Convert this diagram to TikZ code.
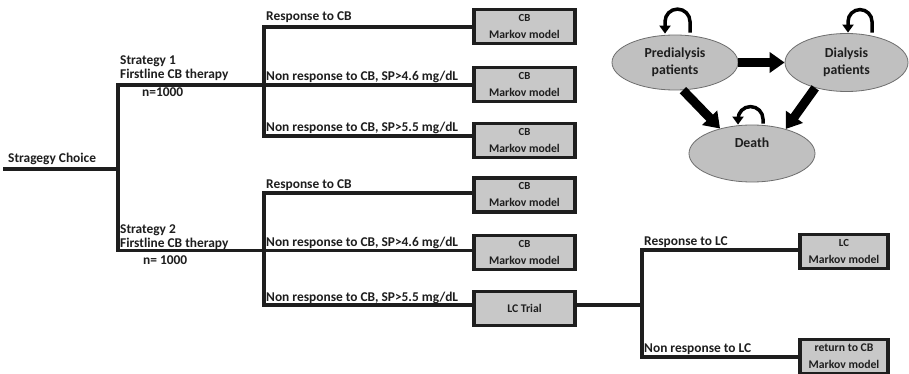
\documentclass[tikz,border=0pt]{standalone}
\usepackage{fontspec}
\setmainfont{Carlito}
\usetikzlibrary{arrows.meta,shapes.geometric}
\definecolor{ink}{HTML}{1E1E1E}
\definecolor{boxfill}{HTML}{C8C8C8}
\definecolor{ellfill}{HTML}{C0C0C0}
\definecolor{ellline}{HTML}{6E6E6E}
\newcommand{\cbsize}{\fontsize{10.8}{11}\selectfont}
\begin{document}
\begin{tikzpicture}[x=1pt,y=-1pt,
  treeline/.style={line width=3.2pt, draw=ink, line join=miter, line cap=rect},
  lab/.style={anchor=base west, inner sep=0pt, font=\bfseries\fontsize{13.4}{14}\selectfont, text=ink},
  mbox/.style={draw=ink, line width=3.2pt, fill=boxfill, minimum width=101pt, minimum height=34pt, inner sep=0pt, align=center, text=ink, font=\bfseries\fontsize{11.7}{14}\selectfont},
  mstate/.style={ellipse, draw=ellline, line width=0.8pt, fill=ellfill, minimum width=126pt, minimum height=56pt, inner sep=0pt, align=center, text=ink, font=\bfseries\fontsize{13.8}{17}\selectfont},
  bigarrow/.style={line width=9pt, draw=black, -{Triangle[length=15pt,width=20pt]}},
  selfloop/.style={line width=3.5pt, draw=black, -{Triangle[length=8pt,width=11pt]}}
]
\useasboundingbox (0,0) rectangle (909,374);
\fill[white] (0,0) rectangle (909,374);

% ---------- boxes ----------
\node[mbox] (b1) at (524.5,26.5) {{\cbsize CB}\\[3pt]Markov model};
\node[mbox] (b2) at (524.5,84.5) {{\cbsize CB}\\[3pt]Markov model};
\node[mbox] (b3) at (524.5,140.5) {{\cbsize CB}\\[3pt]Markov model};
\node[mbox] (b4) at (524.5,195) {{\cbsize CB}\\[3pt]Markov model};
\node[mbox] (b5) at (524.5,252.5) {{\cbsize CB}\\[3pt]Markov model};
\node[mbox] (lct) at (524.5,308.5) {\mbox{}\\[-6pt]LC Trial};
\node[mbox, minimum width=88pt] (lcb) at (844,251.5) {{\cbsize LC}\\[3pt]Markov model};
\node[mbox, minimum width=88pt] (rcb) at (844,356.5) {return to CB\\[3pt]Markov model};

% ---------- tree coordinates ----------
\coordinate (root) at (5,169);
\coordinate (j0) at (118,169);
\coordinate (s1) at (118,85);
\coordinate (s2) at (118,250.5);
\coordinate (j1) at (264,85);
\coordinate (j2) at (264,250.5);
\coordinate (j1a) at (264,27);
\coordinate (j1c) at (264,136);
\coordinate (j2a) at (264,193);
\coordinate (j2c) at (264,305);
\coordinate (j3) at (642,305);
\coordinate (j3a) at (642,250);
\coordinate (j3c) at (642,357);

% ---------- tree lines ----------
\draw[treeline] (root) -- (j0);
\draw[treeline] (j1) -- (s1) -- (s2) -- (j2);
\draw[treeline] (j1a -| b1.west) -- (j1a) -- (j1c) -- (j1c -| b3.west);
\draw[treeline] (j1) -- (j1 -| b2.west);
\draw[treeline] (j2a -| b4.west) -- (j2a) -- (j2c) -- (j2c -| lct.west);
\draw[treeline] (j2) -- (j2 -| b5.west);
\draw[treeline] (lct.east |- j3) -- (j3);
\draw[treeline] (j3a -| lcb.west) -- (j3a) -- (j3c) -- (j3c -| rcb.west);

% ---------- tree labels ----------
\node[lab] (tchoice) at (8,163) {Stragegy Choice};
\node[lab] (ts1a) at (120,65) {Strategy 1};
\node[lab] (ts1b) at (120,79) {Firstline CB therapy};
\node[lab] (ts1n) at (142,97) {n=1000};
\node[lab] (ts2a) at (120,233) {Strategy 2};
\node[lab] (ts2b) at (120,247) {Firstline CB therapy};
\node[lab] (ts2n) at (143,264) {n= 1000};
\node[lab] (r1) at (266,21) {Response to CB};
\node[lab] (r2) at (266,80.5) {Non response to CB, SP>4.6 mg/dL};
\node[lab] (r3) at (266,132) {Non response to CB, SP>5.5 mg/dL};
\node[lab] (r4) at (266,188.5) {Response to CB};
\node[lab] (r5) at (266,246.5) {Non response to CB, SP>4.6 mg/dL};
\node[lab] (r6) at (266,301) {Non response to CB, SP>5.5 mg/dL};
\node[lab] (r7) at (644,245.5) {Response to LC};
\node[lab] (r8) at (644,352.5) {Non response to LC};

% ---------- Markov model ----------
\node[mstate, minimum height=55pt] (pre) at (675,62.5) {Predialysis\\patients};
\node[mstate, minimum width=123pt, minimum height=58pt] (dial) at (846.5,62.5) {Dialysis\\patients};
\node[mstate, minimum height=57pt] (death) at (752,153.5) {Death\\[4pt]\mbox{}};

\draw[bigarrow] (pre.east) -- (dial.west);
\draw[bigarrow] (pre.-74) -- (death.142);
\draw[bigarrow] (dial.-141) -- (death.36);

\draw[selfloop] ([xshift=15pt,yshift=2pt]pre.north) -- ++(0,-11) arc[start angle=0,end angle=-180,radius=12.5] -- ++(0,12);
\draw[selfloop] ([xshift=25.5pt,yshift=0.5pt]dial.north) -- ++(0,-11) arc[start angle=0,end angle=-180,radius=12] -- ++(0,11);
\draw[selfloop] ([xshift=11pt,yshift=1pt]death.north) -- ++(0,-4.5) arc[start angle=0,end angle=-180,radius=12.5] -- ++(0,5.5);
\end{tikzpicture}
\end{document}
